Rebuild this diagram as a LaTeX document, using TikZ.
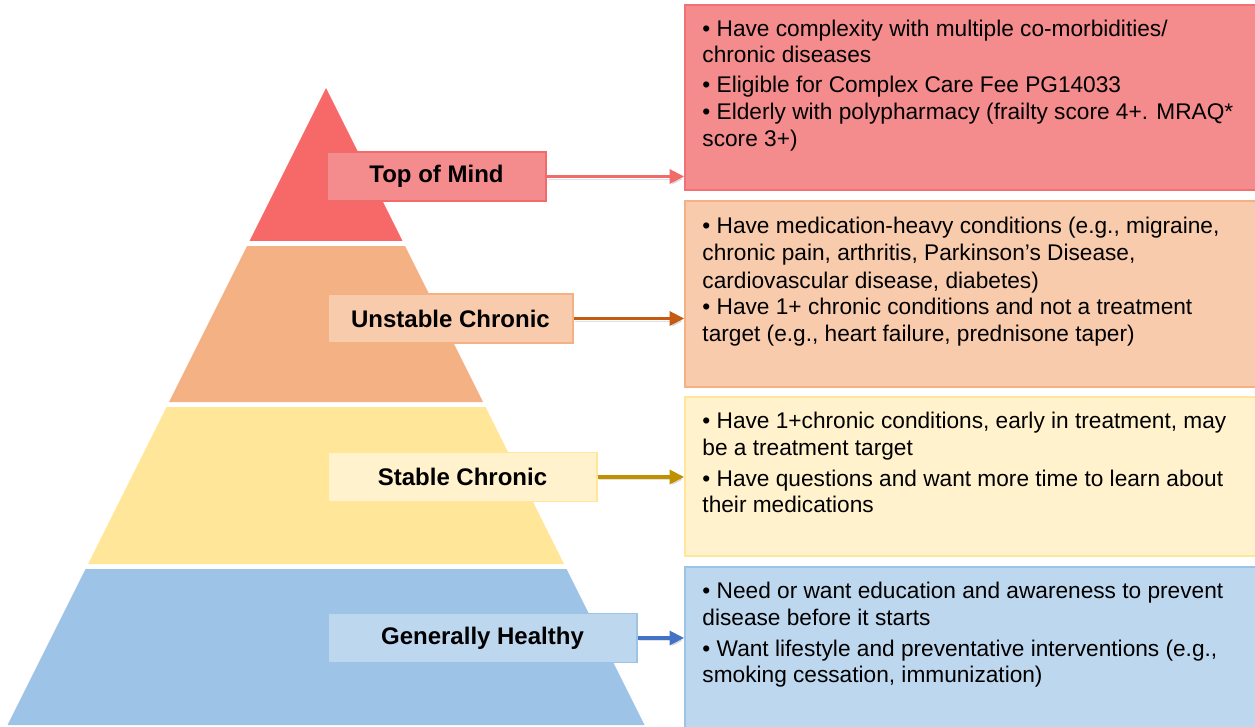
\documentclass[tikz,border=0pt]{standalone}
\usepackage{fontspec}
\setmainfont{Liberation Sans}
\usetikzlibrary{arrows.meta,fit}

% tier colours: pyramid, box fill, arrow
\definecolor{pyrred}{HTML}{F76868}
\definecolor{boxred}{HTML}{F48B8C}
\definecolor{linered}{HTML}{F26B6B}
\definecolor{pyrorange}{HTML}{F4B183}
\definecolor{boxorange}{HTML}{F8CBAD}
\definecolor{lineorange}{HTML}{C55A11}
\definecolor{pyryellow}{HTML}{FFE699}
\definecolor{boxyellow}{HTML}{FFF2CC}
\definecolor{lineyellow}{HTML}{BF9000}
\definecolor{pyrblue}{HTML}{9DC3E6}
\definecolor{boxblue}{HTML}{BDD7EE}
\definecolor{lineblue}{HTML}{4472C4}

\begin{document}
\begin{tikzpicture}[x=0.75pt,y=-0.75pt,
		tierlabel/.style={draw, line width=1.2pt, minimum height=36.75pt, inner sep=0pt,
			font=\fontsize{18}{20}\selectfont\bfseries},
		catbox/.style={line width=1.2pt, inner sep=0pt},
		itemtext/.style={anchor=north west, align=left, inner sep=0pt,
			font=\fontsize{17}{20}\selectfont},
		pointer/.style={line width=2.5pt, -{Triangle[length=11pt,width=10.5pt]},
			preaction={draw=black, opacity=0.12, transform canvas={xshift=1pt,yshift=-2pt}}}]
	\useasboundingbox (0,0) rectangle (1255,727);

	% pyramid, apex at (326,88), half width grows by 0.5 per unit down
	\foreach \ytop/\ybot/\col in {88/241/pyrred, 246/402/pyrorange, 407/564/pyryellow, 569/725/pyrblue}
		\fill[\col] ({326-0.5*(\ytop-88)},\ytop) -- ({326+0.5*(\ytop-88)},\ytop)
			-- ({326+0.5*(\ybot-88)},\ybot) -- ({326-0.5*(\ybot-88)},\ybot) -- cycle;

	% boxes on the right
	\node[catbox, fill=boxred, draw=linered!80!boxred, fit={(685,5) (1258,190)}] (redbox) {};
	\node[catbox, fill=boxorange, draw=pyrorange, fit={(685,201) (1258,387)}] (orangebox) {};
	\node[catbox, fill=boxyellow, draw=pyryellow, fit={(685,397) (1258,556)}] (yellowbox) {};
	\node[catbox, fill=boxblue, draw=pyrblue, fit={(685,567) (1258,740)}] (bluebox) {};

	\node[itemtext] at ([xshift=13.5pt,yshift=-11.5pt]redbox.north west) {%
		• Have complexity with multiple co-morbidities/\\
		chronic diseases\\[2.5pt]
		• Eligible for Complex Care Fee PG14033\\
		• Elderly with polypharmacy (frailty score 4+. MRAQ*\\
		score 3+)};
	\node[itemtext] at ([xshift=13.5pt,yshift=-12.5pt]orangebox.north west) {%
		• Have medication-heavy conditions (e.g., migraine,\\
		chronic pain, arthritis, Parkinson’s Disease,\\[1pt]
		cardiovascular disease, diabetes)\\
		• Have 1+ chronic conditions and not a treatment\\
		target (e.g., heart failure, prednisone taper)};
	\node[itemtext] at ([xshift=13.5pt,yshift=-12pt]yellowbox.north west) {%
		• Have 1+chronic conditions, early in treatment, may\\
		be a treatment target\\[3pt]
		• Have questions and want more time to learn about\\
		their medications};
	\node[itemtext] at ([xshift=13.5pt,yshift=-12pt]bluebox.north west) {%
		• Need or want education and awareness to prevent\\
		disease before it starts\\[3pt]
		• Want lifestyle and preventative interventions (e.g.,\\
		smoking cessation, immunization)};

	% labels on the tiers
	\node[tierlabel, fill=boxred, draw=linered, minimum width=164.25pt] (topmind) at (436.5,176.5) {Top of Mind};
	\node[tierlabel, fill=boxorange, draw=pyrorange, minimum width=183.75pt] (unstable) at (450.5,318.5) {Unstable Chronic};
	\node[tierlabel, fill=boxyellow, draw=pyryellow, minimum width=201.75pt] (stable) at (462.5,477) {Stable Chronic};
	\node[tierlabel, fill=boxblue, draw=pyrblue, minimum width=231.75pt] (healthy) at (482.5,638) {Generally Healthy};

	\draw[pointer, linered] (topmind.east) -- (topmind.east -| redbox.west);
	\draw[pointer, lineorange] (unstable.east) -- (unstable.east -| orangebox.west);
	\draw[pointer, lineyellow] (stable.east) -- (stable.east -| yellowbox.west);
	\draw[pointer, lineblue] (healthy.east) -- (healthy.east -| bluebox.west);

\end{tikzpicture}
\end{document}
